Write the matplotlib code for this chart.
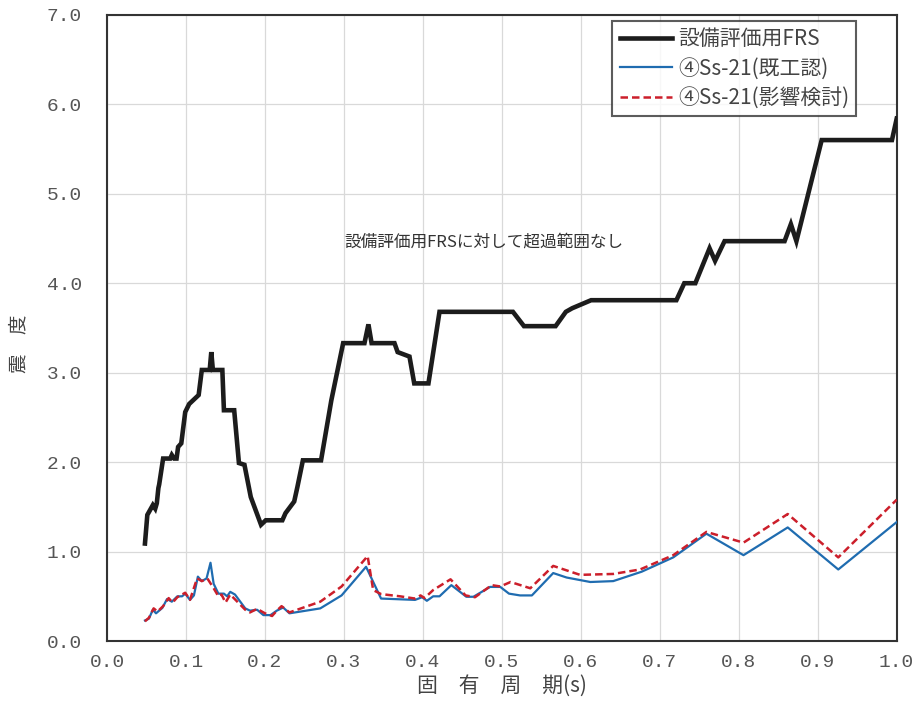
import numpy as np
import matplotlib as mpl
mpl.use('Agg')
import matplotlib.pyplot as plt

plt.rcParams['font.family'] = ['Noto Sans CJK JP', 'DejaVu Sans']

# 設備評価用FRS (black)
frs_t = [0.048, 0.051, 0.058, 0.061, 0.063, 0.065, 0.066, 0.071, 0.080, 0.082, 0.085,
         0.088, 0.090, 0.094, 0.099, 0.104, 0.116, 0.120, 0.130, 0.132, 0.134, 0.146,
         0.148, 0.161, 0.167, 0.174, 0.182, 0.195, 0.201, 0.222, 0.226, 0.237, 0.241,
         0.248, 0.271, 0.284, 0.299, 0.326, 0.331, 0.335, 0.364, 0.368, 0.383, 0.389,
         0.407, 0.421, 0.514, 0.528, 0.568, 0.581, 0.589, 0.613, 0.721, 0.731, 0.745,
         0.763, 0.770, 0.782, 0.858, 0.866, 0.873, 0.905, 0.994, 1.000]
frs_a = [1.09, 1.41, 1.52, 1.48, 1.54, 1.71, 1.75, 2.04, 2.04, 2.08, 2.04,
         2.04, 2.17, 2.21, 2.56, 2.65, 2.75, 3.03, 3.03, 3.23, 3.03, 3.03,
         2.58, 2.58, 1.99, 1.97, 1.61, 1.30, 1.35, 1.35, 1.43, 1.56, 1.72,
         2.02, 2.02, 2.69, 3.33, 3.33, 3.54, 3.33, 3.33, 3.23, 3.18, 2.88,
         2.88, 3.68, 3.68, 3.52, 3.52, 3.68, 3.72, 3.81, 3.81, 4.00, 4.00,
         4.39, 4.25, 4.47, 4.47, 4.66, 4.47, 5.60, 5.60, 5.84]

# ④Ss-21(既工認) (blue)
kiko_t = [0.048, 0.053, 0.058, 0.062, 0.070, 0.076, 0.082, 0.089, 0.095, 0.099, 0.105,
          0.110, 0.115, 0.120, 0.126, 0.131, 0.135, 0.141, 0.148, 0.152, 0.156, 0.162,
          0.175, 0.181, 0.190, 0.198, 0.207, 0.215, 0.223, 0.231, 0.270, 0.297, 0.328,
          0.347, 0.390, 0.399, 0.405, 0.413, 0.421, 0.436, 0.455, 0.464, 0.485, 0.498,
          0.509, 0.523, 0.538, 0.565, 0.582, 0.612, 0.641, 0.677, 0.717, 0.759, 0.806,
          0.862, 0.926, 1.000]
kiko_a = [0.23, 0.25, 0.35, 0.31, 0.37, 0.47, 0.44, 0.50, 0.50, 0.53, 0.46,
          0.51, 0.72, 0.67, 0.70, 0.875, 0.64, 0.53, 0.53, 0.50, 0.55, 0.52,
          0.365, 0.34, 0.35, 0.29, 0.29, 0.34, 0.375, 0.31, 0.365, 0.51, 0.83,
          0.475, 0.46, 0.49, 0.45, 0.50, 0.50, 0.625, 0.495, 0.495, 0.605, 0.605,
          0.53, 0.51, 0.51, 0.76, 0.71, 0.66, 0.67, 0.775, 0.935, 1.20, 0.96,
          1.27, 0.80, 1.33]

# ④Ss-21(影響検討) (red dashed)
eikyo_t = [0.048, 0.053, 0.059, 0.064, 0.071, 0.078, 0.083, 0.089, 0.099, 0.105, 0.114,
           0.120, 0.127, 0.135, 0.141, 0.145, 0.150, 0.156, 0.175, 0.181, 0.190, 0.200,
           0.209, 0.215, 0.221, 0.231, 0.270, 0.297, 0.330, 0.337, 0.347, 0.371, 0.390,
           0.397, 0.402, 0.413, 0.435, 0.454, 0.466, 0.487, 0.498, 0.511, 0.536, 0.565,
           0.599, 0.641, 0.675, 0.717, 0.759, 0.806, 0.862, 0.926, 1.000]
eikyo_a = [0.22, 0.26, 0.365, 0.33, 0.39, 0.48, 0.43, 0.49, 0.54, 0.46, 0.70,
           0.67, 0.70, 0.59, 0.50, 0.52, 0.43, 0.52, 0.35, 0.32, 0.36, 0.31,
           0.28, 0.34, 0.39, 0.32, 0.44, 0.61, 0.95, 0.57, 0.525, 0.50, 0.475,
           0.51, 0.48, 0.57, 0.69, 0.51, 0.49, 0.625, 0.61, 0.66, 0.59, 0.84,
           0.74, 0.75, 0.80, 0.96, 1.22, 1.10, 1.42, 0.935, 1.58]

x_ticks = [0.0, 0.1, 0.2, 0.3, 0.4, 0.5, 0.6, 0.7, 0.8, 0.9, 1.0]
y_ticks = [0, 1, 2, 3, 4, 5, 6, 7]

fig = plt.figure(figsize=(9.15, 7.06), dpi=100)
ax = fig.add_axes([0.117, 0.092, 0.863, 0.887])

ax.plot(frs_t, frs_a, color='#1c1c1c', lw=3.3, solid_joinstyle='miter',
        label='設備評価用FRS', zorder=4)
ax.plot(kiko_t, kiko_a, color='#1f6cb0', lw=1.6, label='④Ss-21(既工認)', zorder=3)
ax.plot(eikyo_t, eikyo_a, color='#cc1f2b', lw=1.8, ls=(0, (3, 1.6)),
        label='④Ss-21(影響検討)', zorder=3)

ax.set_xlim(0, 1.0)
ax.set_ylim(0, 7.0)
ax.set_xticks(x_ticks)
ax.set_yticks(y_ticks)
ax.set_xticklabels(['%.1f' % v for v in x_ticks], family='Liberation Mono',
                   fontsize=14, color='#555555')
ax.set_yticklabels(['%.1f' % v for v in y_ticks], family='Liberation Mono',
                   fontsize=14, color='#555555')
ax.tick_params(axis='both', length=0)
ax.tick_params(axis='x', pad=9)
ax.tick_params(axis='y', pad=18)

ax.grid(True, color='#d9d9d9', lw=0.9)
ax.set_axisbelow(True)
for s in ax.spines.values():
    s.set_color('#333333')
    s.set_linewidth(1.5)

ax.set_xlabel('固　有　周　期(s)', fontsize=15, color='#444444', labelpad=3)
ax.set_ylabel('震　度', fontsize=14, color='#444444')
ax.yaxis.set_label_coords(-0.098, 0.475)

ax.text(0.30, 4.46, '設備評価用FRSに対して超過範囲なし', fontsize=12,
        color='#333333', va='center', ha='left')

leg = ax.legend(loc='upper right', bbox_to_anchor=(0.949, 0.99), fontsize=15,
                frameon=True, fancybox=False, handlelength=2.5, handletextpad=0.3,
                borderpad=0.35, labelspacing=0.35, borderaxespad=0)
leg.get_frame().set_edgecolor('#333333')
leg.get_frame().set_linewidth(1.5)
for t in leg.get_texts():
    t.set_color('#444444')

fig.savefig('out.png', dpi=100)
